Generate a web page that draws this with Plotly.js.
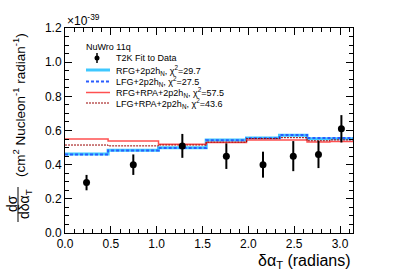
<!DOCTYPE html>
<html>
<head>
<meta charset="utf-8">
<script src="https://cdn.plot.ly/plotly-3.0.1.min.js"></script>
<style>html,body{margin:0;padding:0;background:#fff;}#chart{width:407px;height:276px;}</style>
</head>
<body>
<div id="chart"></div>
<script>
// Bin edges of delta alpha_T (radians)
const binEdges = [0, 0.47, 1.02, 1.54, 1.98, 2.34, 2.64, 2.89, 3.1416];
// Data: T2K fit to data (x 1e-39)
const dataX = [0.235, 0.745, 1.28, 1.76, 2.16, 2.49, 2.765, 3.015];
const dataY = [0.295, 0.40, 0.51, 0.45, 0.40, 0.45, 0.46, 0.61];
const dataErr = [0.045, 0.06, 0.07, 0.075, 0.076, 0.088, 0.08, 0.08];
// NuWro 11q predictions
const rfg2p2h    = [0.462, 0.485, 0.499, 0.545, 0.556, 0.572, 0.552, 0.552];
const lfg2p2h    = [0.460, 0.483, 0.497, 0.543, 0.555, 0.574, 0.556, 0.556];
const rfgRpa2p2h = [0.550, 0.538, 0.519, 0.530, 0.545, 0.545, 0.532, 0.535];
const lfgRpa2p2h = [0.515, 0.510, 0.515, 0.532, 0.553, 0.558, 0.540, 0.545];
const legendLabels = [
  "T2K Fit to Data",
  "RFG+2p2h<sub>N</sub>, χ<sup>2</sup>=29.7",
  "LFG+2p2h<sub>N</sub>, χ<sup>2</sup>=27.5",
  "RFG+RPA+2p2h<sub>N</sub>, χ<sup>2</sup>=57.5",
  "LFG+RPA+2p2h<sub>N</sub>, χ<sup>2</sup>=43.6"
];
const xTickVals = [0, 0.5, 1.0, 1.5, 2.0, 2.5, 3.0];
const yTickVals = [0, 0.2, 0.4, 0.6, 0.8, 1.0, 1.2];

function stepY(v){ return v.concat([v[v.length-1]]); }

const styles = [
  {color:'#3fc8ff', width:3, dash:'solid'},
  {color:'#2a5cff', width:2, dash:'3px,2px'},
  {color:'#ff5050', width:1.5, dash:'solid'},
  {color:'#990000', width:1, dash:'2px,1px'}
];
const series = [rfg2p2h, lfg2p2h, rfgRpa2p2h, lfgRpa2p2h];

const traces = series.map((s,i)=>({
  x: binEdges, y: stepY(s), mode:'lines', type:'scatter',
  line:{shape:'hv', color:styles[i].color, width:styles[i].width, dash:styles[i].dash},
  hoverinfo:'skip', showlegend:false
}));
traces.push({
  x:dataX, y:dataY, mode:'markers', type:'scatter',
  marker:{color:'black', size:7, symbol:'circle'},
  error_y:{type:'data', array:dataErr, visible:true, color:'black', thickness:2, width:0},
  showlegend:false
});

// plot area: x 65..353, y 28..233
const L=65, R=353, T=28, B=233;
const px = p => (p-L)/(R-L);
const py = p => (B-p)/(B-T);

const font = 'Liberation Sans, Arial, Helvetica, sans-serif';
const annotations = [];
const shapes = [];

// legend
annotations.push({xref:'paper', yref:'paper', x:px(84), y:py(47), xanchor:'left', yanchor:'middle',
  text:'NuWro 11q', showarrow:false, font:{family:font, size:9, color:'black'}});
const legY = [58, 70, 81.5, 92.5, 103];
legendLabels.forEach((t,i)=>{
  annotations.push({xref:'paper', yref:'paper', x:px(114), y:py(legY[i]), xanchor:'left', yanchor:'middle',
    text:t, showarrow:false, font:{family:font, size:9, color:'black'}});
});
// legend data marker
shapes.push({type:'line', xref:'paper', yref:'paper', x0:px(97), x1:px(97), y0:py(53), y1:py(63),
  line:{color:'black', width:1.5}});
shapes.push({type:'circle', xref:'paper', yref:'paper', x0:px(94.5), x1:px(99.5), y0:py(60.5), y1:py(55.5),
  fillcolor:'black', line:{color:'black', width:0}});
// legend line samples
for(let i=0;i<4;i++){
  shapes.push({type:'line', xref:'paper', yref:'paper', x0:px(86), x1:px(110), y0:py(legY[i+1]), y1:py(legY[i+1]),
    line:{color:styles[i].color, width:styles[i].width, dash:styles[i].dash}});
}

// exponent label
annotations.push({xref:'paper', yref:'paper', x:px(65), y:py(20), xanchor:'left', yanchor:'middle',
  text:'×10<sup>-39</sup>', showarrow:false, font:{family:font, size:12, color:'black'}});

// x title
annotations.push({xref:'paper', yref:'paper', x:1, y:py(261), xanchor:'right', yanchor:'middle',
  text:'δα<sub>T</sub> (radians)', showarrow:false, font:{family:font, size:16, color:'black'}});

// y title: fraction
annotations.push({xref:'paper', yref:'paper', x:px(12), y:py(204), xanchor:'center', yanchor:'middle',
  text:'dσ', textangle:-90, showarrow:false, font:{family:font, size:14, color:'black'}});
annotations.push({xref:'paper', yref:'paper', x:px(25), y:py(204), xanchor:'center', yanchor:'middle',
  text:'dδα<sub>T</sub>', textangle:-90, showarrow:false, font:{family:font, size:14, color:'black'}});
shapes.push({type:'line', xref:'paper', yref:'paper', x0:px(18), x1:px(18), y0:py(187), y1:py(222),
  line:{color:'black', width:1}});
annotations.push({xref:'paper', yref:'paper', x:px(19), y:py(105), xanchor:'center', yanchor:'middle',
  text:'(cm<sup>2</sup> Nucleon<sup>-1</sup> radian<sup>-1</sup>)', textangle:-90, showarrow:false,
  font:{family:font, size:13.5, color:'black'}});

const layout = {
  width:407, height:276,
  margin:{l:L, r:407-R, t:T, b:276-B, pad:0},
  paper_bgcolor:'white', plot_bgcolor:'white',
  showlegend:false,
  font:{family:font, size:12, color:'black'},
  xaxis:{range:[0, 3.1416], tickvals:xTickVals, ticktext:xTickVals.map(v=>v.toFixed(1)),
    ticks:'inside', ticklen:7, tickcolor:'black', tickwidth:1,
    minor:{dtick:0.1, tick0:0, ticks:'inside', ticklen:4, tickcolor:'black', showgrid:false},
    showline:true, linecolor:'black', linewidth:1, mirror:'ticks', showgrid:false, zeroline:false,
    tickfont:{family:font, size:12, color:'black'}, fixedrange:true},
  yaxis:{range:[0, 1.2], tickvals:yTickVals, ticktext:yTickVals.map(v=>v.toFixed(1)),
    ticks:'inside', ticklen:7, tickcolor:'black', tickwidth:1,
    minor:{dtick:0.05, tick0:0, ticks:'inside', ticklen:4, tickcolor:'black', showgrid:false},
    showline:true, linecolor:'black', linewidth:1, mirror:'ticks', showgrid:false, zeroline:false,
    tickfont:{family:font, size:12, color:'black'}, fixedrange:true},
  annotations:annotations,
  shapes:shapes
};

Plotly.newPlot('chart', traces, layout, {displayModeBar:false, staticPlot:true});
</script>
</body>
</html>
